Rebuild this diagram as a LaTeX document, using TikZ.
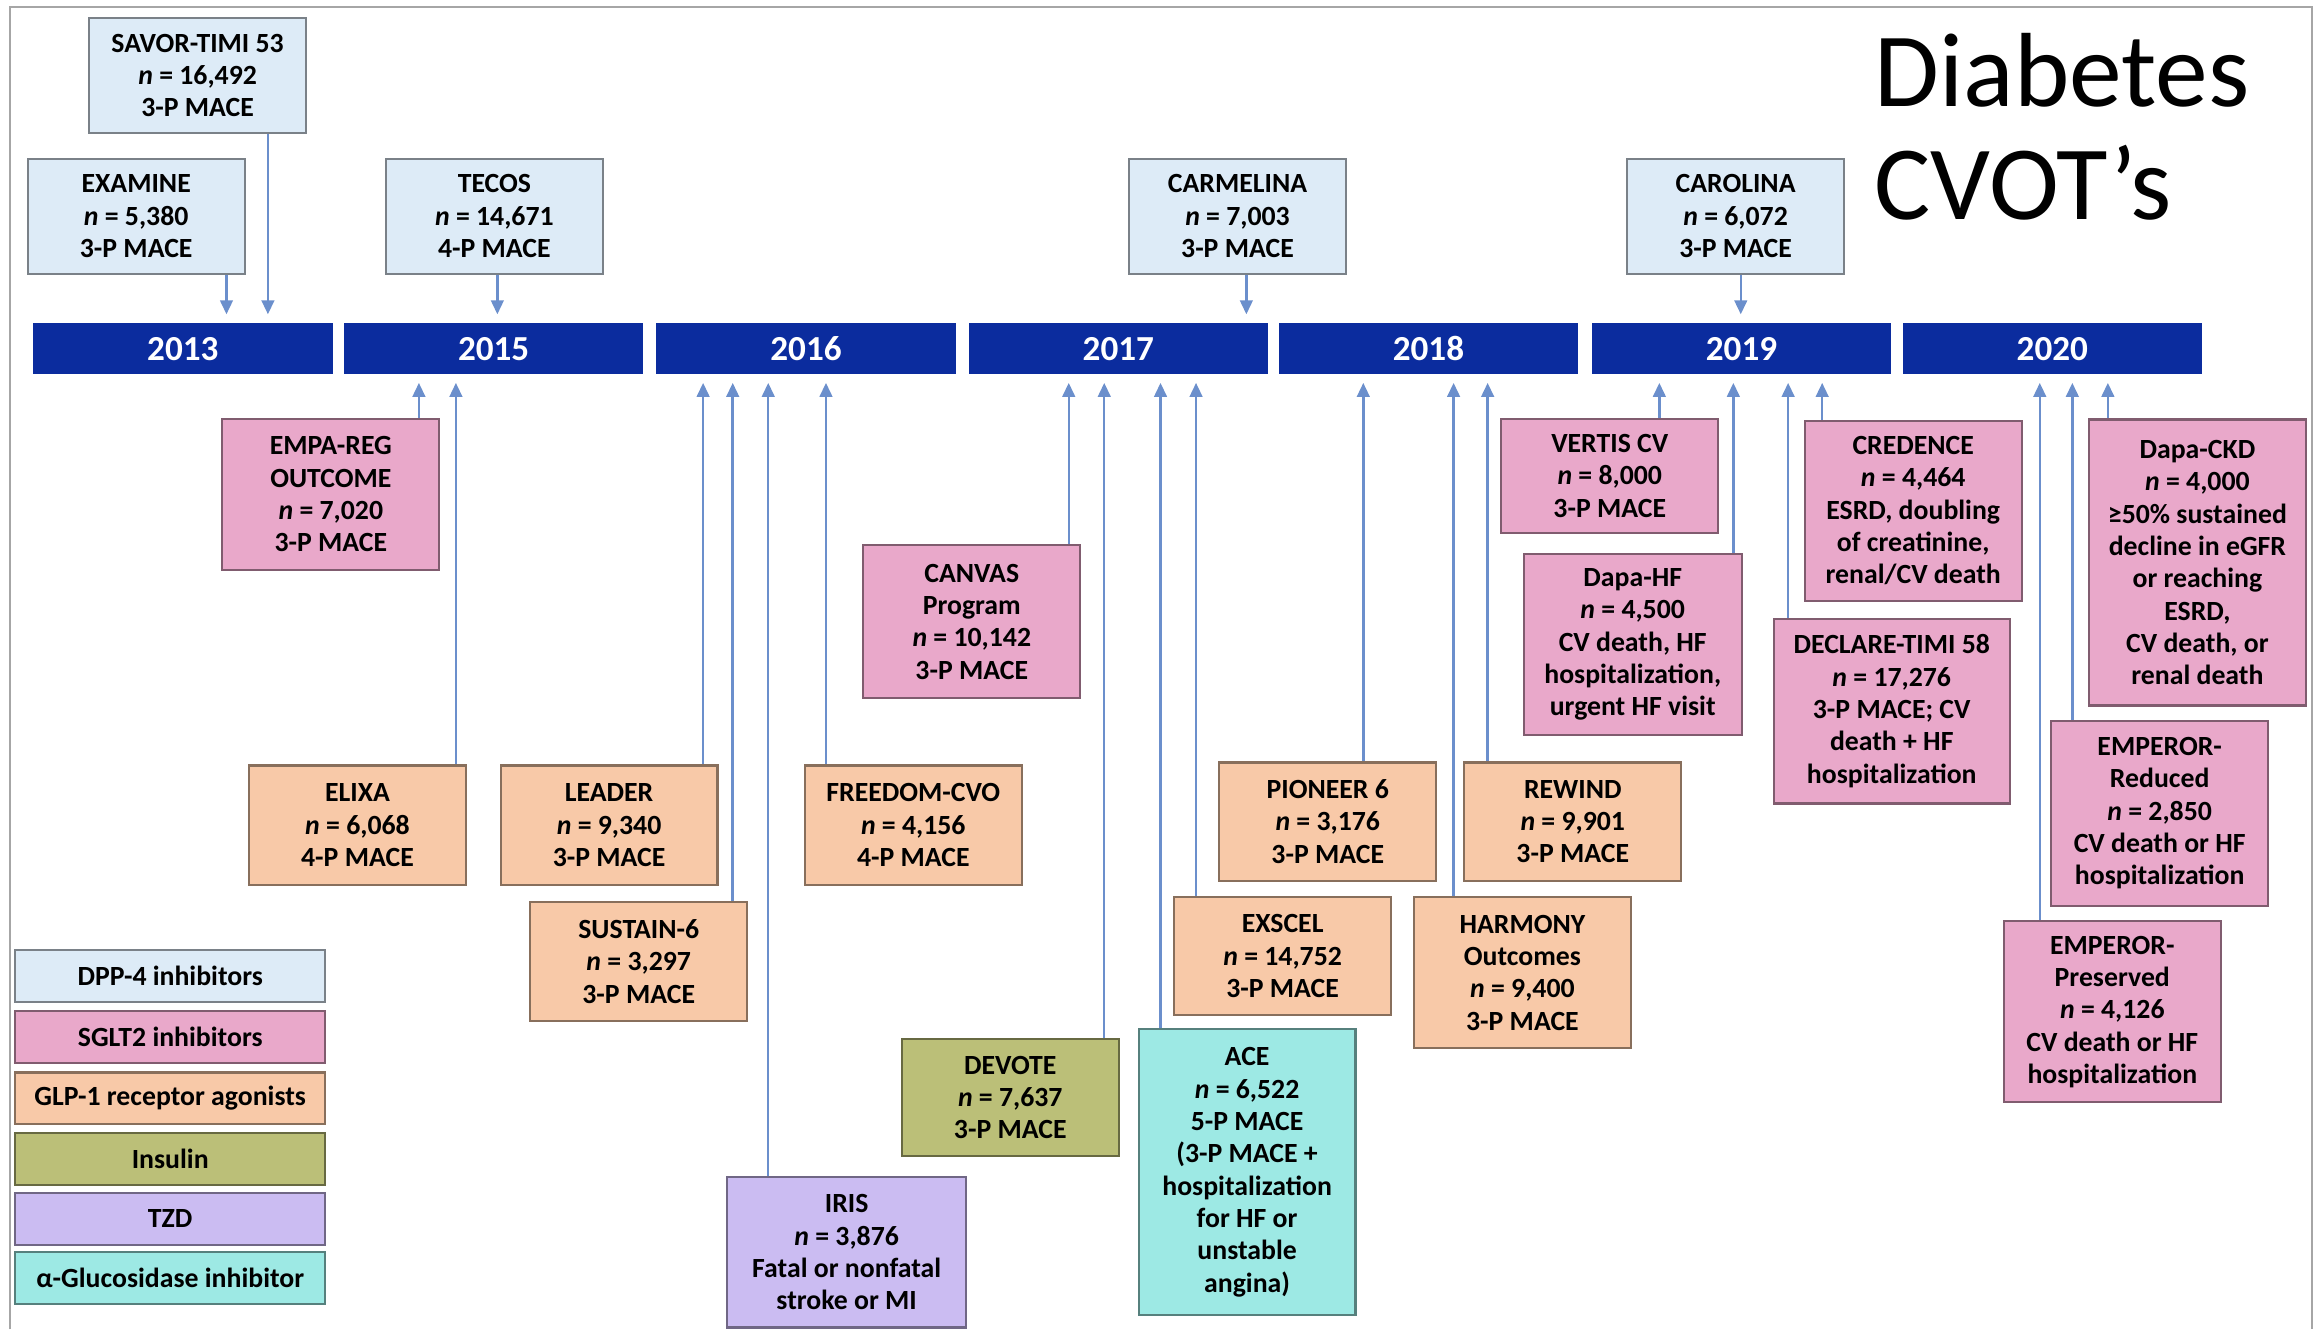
\documentclass[tikz,border=0pt]{standalone}
\usepackage{fontspec}
\setmainfont{Carlito}
\usetikzlibrary{arrows.meta}

\definecolor{dppfill}{HTML}{DDEBF7}
\definecolor{sgltfill}{HTML}{E9A8CA}
\definecolor{glpfill}{HTML}{F8C9A8}
\definecolor{insfill}{HTML}{BBBF78}
\definecolor{tzdfill}{HTML}{CBBCF2}
\definecolor{agifill}{HTML}{9DE9E4}
\definecolor{barblue}{HTML}{0B2C9E}
\definecolor{linkblue}{HTML}{6B8FCC}

\begin{document}
\begin{tikzpicture}[x=0.14802mm, y=-0.14802mm,
  trial/.style={draw=#1!55!black, fill=#1, line width=0.6pt, minimum width=61.7pt,
    inner sep=1pt, align=center, font=\bfseries\fontsize{7.9}{9.2}\selectfont},
  yearbar/.style={fill=barblue, minimum width=85.2pt, minimum height=14.7pt, inner sep=0pt,
    text=white, font=\bfseries\fontsize{10}{12}\selectfont},
  legendbox/.style={trial=#1, minimum width=88.1pt, minimum height=14.7pt},
  link/.style={draw=linkblue, line width=0.7pt, -{Triangle[length=4pt,width=3.6pt]}, shorten >=2.2pt}
]
  \useasboundingbox (0,0) rectangle (1568,898);
  \draw[black!35, line width=0.6pt] (7,898) -- (7,5) -- (1562,5) -- (1562,898);

  % title
  \node[anchor=base west, inner sep=0pt, font=\fontsize{30}{32}\selectfont] (title1) at (1266,72) {Diabetes};
  \node[anchor=base west, inner sep=0pt, font=\fontsize{30}{32}\selectfont] (title2) at (1266,148) {CVOT’s};

  % timeline
  \foreach \yr/\cx in {2013/123.5, 2015/333.5, 2016/544.5, 2017/755.5, 2018/965, 2019/1176.5, 2020/1386.5}
    \node[yearbar] (y\yr) at (\cx,235.5) {\yr};

  % DPP-4 trials above the bar
  \node[trial=dppfill, minimum height=32.7pt] (savor) at (133.5,51) {SAVOR-TIMI 53\\\textit{n} = 16,492\\3-P MACE};
  \node[trial=dppfill, minimum height=32.7pt] (examine) at (92,146) {EXAMINE\\\textit{n} = 5,380\\3-P MACE};
  \node[trial=dppfill, minimum height=32.7pt] (tecos) at (334,146) {TECOS\\\textit{n} = 14,671\\4-P MACE};
  \node[trial=dppfill, minimum height=32.7pt] (carmelina) at (836,146) {CARMELINA\\\textit{n} = 7,003\\3-P MACE};
  \node[trial=dppfill, minimum height=32.7pt] (carolina) at (1172.5,146) {CAROLINA\\\textit{n} = 6,072\\3-P MACE};

  % trials below the bar
  \node[trial=sgltfill, minimum height=42.8pt] (empa) at (223.5,334) {EMPA-REG\\OUTCOME\\\textit{n} = 7,020\\3-P MACE};
  \node[trial=glpfill, minimum height=34pt] (elixa) at (241.5,557.5) {ELIXA\\\textit{n} = 6,068\\4-P MACE};
  \node[trial=glpfill, minimum height=34pt] (leader) at (411.5,557.5) {LEADER\\\textit{n} = 9,340\\3-P MACE};
  \node[trial=glpfill, minimum height=34pt] (sustain) at (431.5,649.5) {SUSTAIN-6\\\textit{n} = 3,297\\3-P MACE};
  \node[trial=tzdfill, minimum width=68pt, minimum height=42.8pt] (iris) at (572,846) {IRIS\\\textit{n} = 3,876\\Fatal or nonfatal\\stroke or MI};
  \node[trial=glpfill, minimum height=34pt] (freedom) at (617,557.5) {FREEDOM-CVO\\\textit{n} = 4,156\\4-P MACE};
  \node[trial=sgltfill, minimum height=43.6pt] (canvas) at (656.5,420) {CANVAS\\Program\\\textit{n} = 10,142\\3-P MACE};
  \node[trial=insfill, minimum height=33.1pt] (devote) at (682.5,741.5) {DEVOTE\\\textit{n} = 7,637\\3-P MACE};
  \node[trial=agifill, minimum height=81.4pt] (ace) at (842.5,792) {ACE\\\textit{n} = 6,522\\5-P MACE\\(3-P MACE +\\hospitalization\\for HF or\\unstable\\angina)};
  \node[trial=glpfill, minimum height=33.6pt] (exscel) at (866.5,646) {EXSCEL\\\textit{n} = 14,752\\3-P MACE};
  \node[trial=glpfill, minimum height=33.6pt] (pioneer) at (897,555) {PIONEER 6\\\textit{n} = 3,176\\3-P MACE};
  \node[trial=glpfill, minimum height=42.8pt] (harmony) at (1028.5,657) {HARMONY\\Outcomes\\\textit{n} = 9,400\\3-P MACE};
  \node[trial=glpfill, minimum height=33.6pt] (rewind) at (1062.5,555) {REWIND\\\textit{n} = 9,901\\3-P MACE};
  \node[trial=sgltfill, minimum height=32.3pt] (vertis) at (1087.5,321.5) {VERTIS CV\\\textit{n} = 8,000\\3-P MACE};
  \node[trial=sgltfill, minimum width=62.1pt, minimum height=51.6pt] (dapahf) at (1103,435.5) {Dapa-HF\\\textit{n} = 4,500\\CV death, HF\\hospitalization,\\urgent HF visit};
  \node[trial=sgltfill, minimum width=67.1pt, minimum height=52.5pt] (declare) at (1278,480.5) {DECLARE-TIMI 58\\\textit{n} = 17,276\\3-P MACE; CV\\death + HF\\hospitalization};
  \node[trial=sgltfill, minimum height=51.2pt] (credence) at (1292.5,345) {CREDENCE\\\textit{n} = 4,464\\ESRD, doubling\\of creatinine,\\renal/CV death};
  \node[trial=sgltfill, minimum height=51.6pt] (emppres) at (1427,683.5) {EMPEROR-\\Preserved\\\textit{n} = 4,126\\CV death or HF\\hospitalization};
  \node[trial=sgltfill, minimum height=52.5pt] (empred) at (1459,549.5) {EMPEROR-\\Reduced\\\textit{n} = 2,850\\CV death or HF\\hospitalization};
  \node[trial=sgltfill, minimum height=81.4pt] (dapackd) at (1484.5,380) {Dapa-CKD\\\textit{n} = 4,000\\≥50\% sustained\\decline in eGFR\\or reaching\\ESRD,\\CV death, or\\renal death};

  % arrows down to the bar
  \draw[link] (examine.south -| 153,0) -- (153,0 |- y2013.north);
  \draw[link] (savor.south -| 181,0) -- (181,0 |- y2013.north);
  \draw[link] (tecos.south -| 336,0) -- (336,0 |- y2015.north);
  \draw[link] (carmelina.south -| 842,0) -- (842,0 |- y2017.north);
  \draw[link] (carolina.south -| 1176,0) -- (1176,0 |- y2019.north);

  % arrows up to the bar
  \draw[link] (empa.north -| 283,0) -- (283,0 |- y2015.south);
  \draw[link] (elixa.north -| 308,0) -- (308,0 |- y2015.south);
  \draw[link] (leader.north -| 475,0) -- (475,0 |- y2016.south);
  \draw[link] (sustain.north -| 495,0) -- (495,0 |- y2016.south);
  \draw[link] (iris.north -| 519,0) -- (519,0 |- y2016.south);
  \draw[link] (freedom.north -| 558,0) -- (558,0 |- y2016.south);
  \draw[link] (canvas.north -| 722,0) -- (722,0 |- y2017.south);
  \draw[link] (devote.north -| 746,0) -- (746,0 |- y2017.south);
  \draw[link] (ace.north -| 784,0) -- (784,0 |- y2017.south);
  \draw[link] (exscel.north -| 808,0) -- (808,0 |- y2017.south);
  \draw[link] (pioneer.north -| 921,0) -- (921,0 |- y2018.south);
  \draw[link] (harmony.north -| 982,0) -- (982,0 |- y2018.south);
  \draw[link] (rewind.north -| 1005,0) -- (1005,0 |- y2018.south);
  \draw[link] (vertis.north -| 1121,0) -- (1121,0 |- y2019.south);
  \draw[link] (dapahf.north -| 1171,0) -- (1171,0 |- y2019.south);
  \draw[link] (declare.north -| 1208,0) -- (1208,0 |- y2019.south);
  \draw[link] (credence.north -| 1231,0) -- (1231,0 |- y2019.south);
  \draw[link] (emppres.north -| 1378,0) -- (1378,0 |- y2020.south);
  \draw[link] (empred.north -| 1400,0) -- (1400,0 |- y2020.south);
  \draw[link] (dapackd.north -| 1424,0) -- (1424,0 |- y2020.south);

  % legend
  \node[legendbox=dppfill] (legdpp) at (115,659.5) {DPP-4 inhibitors};
  \node[legendbox=sgltfill] (legsglt) at (115,700.5) {SGLT2 inhibitors};
  \node[legendbox=glpfill] (legglp) at (115,742) {GLP-1 receptor agonists};
  \node[legendbox=insfill] (legins) at (115,783) {Insulin};
  \node[legendbox=tzdfill] (legtzd) at (115,823.5) {TZD};
  \node[legendbox=agifill] (legagi) at (115,863.5) {α-Glucosidase inhibitor};
\end{tikzpicture}
\end{document}
